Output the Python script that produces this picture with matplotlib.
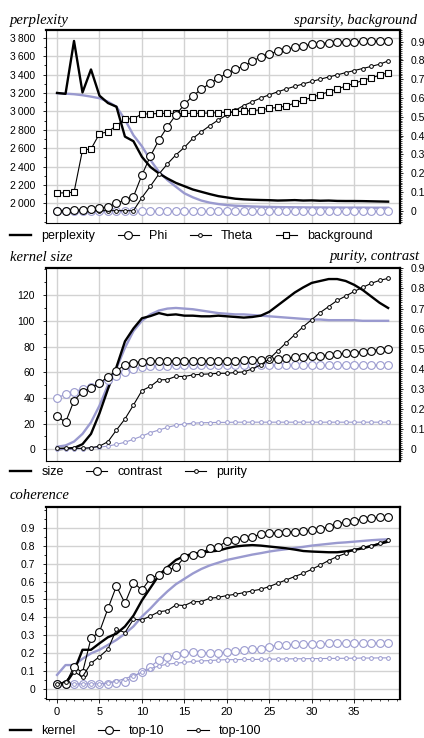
import matplotlib.pyplot as plt
from matplotlib.lines import Line2D
from matplotlib.ticker import FixedLocator, FuncFormatter, MultipleLocator

plt.rcParams['font.family'] = ['Liberation Sans', 'DejaVu Sans']


# Data: one value per iteration 0..39 (black = model, blue = baseline)

iterations = list(range(40))

perplexity = [3200, 3190, 3765, 3205, 3455, 3170, 3090, 3050, 2725, 2675,
              2505, 2395, 2325, 2270, 2222, 2186, 2150, 2125, 2100, 2078,
              2064, 2050, 2043, 2039, 2036, 2034, 2030, 2032, 2035, 2030,
              2032, 2028, 2030, 2026, 2025, 2025, 2024, 2022, 2020, 2018]
perplexity_base = [3196, 3192, 3186, 3175, 3160, 3142, 3105, 3050, 2910, 2740,
                   2620, 2471, 2343, 2253, 2180, 2109, 2065, 2030, 2007, 1992,
                   1981, 1974, 1970, 1966, 1963, 1961, 1959, 1958, 1957, 1956,
                   1955, 1955, 1954, 1954, 1953, 1953, 1953, 1952, 1952, 1952]
phi = [0.0, 0.0, 0.002, 0.004, 0.008, 0.014, 0.021, 0.039, 0.057, 0.075,
       0.19, 0.291, 0.376, 0.447, 0.51, 0.566, 0.612, 0.646, 0.678, 0.705,
       0.731, 0.753, 0.77, 0.795, 0.82, 0.835, 0.848, 0.86, 0.87, 0.878,
       0.885, 0.89, 0.894, 0.897, 0.899, 0.9, 0.901, 0.902, 0.903, 0.903]
phi_base = [0.0, 0.0, 0.0, 0.0, 0.0, 0.0, 0.0, 0.0, 0.0, 0.0,
            0.0, 0.0, 0.0, 0.0, 0.0, 0.0, 0.0, 0.0, 0.0, 0.0,
            0.0, 0.0, 0.0, 0.0, 0.0, 0.0, 0.0, 0.0, 0.0, 0.0,
            0.0, 0.0, 0.0, 0.0, 0.0, 0.0, 0.0, 0.0, 0.0, 0.0]
theta = [0.0, 0.0, 0.0, 0.0, 0.0, 0.0, 0.0, 0.0, 0.0, 0.0,
         0.07, 0.131, 0.195, 0.249, 0.297, 0.337, 0.385, 0.42, 0.453, 0.483,
         0.51, 0.535, 0.56, 0.58, 0.6, 0.617, 0.633, 0.648, 0.662, 0.675,
         0.688, 0.7, 0.712, 0.723, 0.735, 0.746, 0.757, 0.768, 0.78, 0.797]
background = [0.093, 0.096, 0.098, 0.323, 0.328, 0.41, 0.42, 0.453, 0.488, 0.49,
              0.515, 0.515, 0.518, 0.518, 0.518, 0.518, 0.518, 0.519, 0.52, 0.522,
              0.524, 0.527, 0.53, 0.533, 0.537, 0.545, 0.55, 0.557, 0.573, 0.588,
              0.603, 0.618, 0.633, 0.648, 0.663, 0.678, 0.693, 0.707, 0.721, 0.735]

size = [0, 0.5, 1, 4, 12, 28, 47, 64, 84, 94,
        102, 103.7, 106, 104.5, 105, 104, 104, 103.5, 103.5, 104,
        103.5, 103, 102.5, 103, 104, 107, 112, 117, 122, 126,
        129.5, 131, 132.5, 132.5, 131, 128, 124, 119, 114, 110]
size_base = [2, 3, 6, 12, 21, 34, 50, 63, 79, 92,
             100, 105, 108, 109.5, 110, 109.5, 109, 108, 107, 106,
             105.5, 105, 105, 104.5, 104, 103.5, 103, 102.5, 102, 101.5,
             101, 101, 100.5, 100.5, 100.5, 100.5, 100, 100, 100, 100]
contrast = [0.166, 0.134, 0.242, 0.287, 0.307, 0.328, 0.362, 0.39, 0.42, 0.431,
            0.436, 0.438, 0.44, 0.44, 0.44, 0.44, 0.44, 0.44, 0.44, 0.44,
            0.441, 0.441, 0.442, 0.443, 0.444, 0.449, 0.451, 0.454, 0.457, 0.46,
            0.463, 0.466, 0.469, 0.473, 0.477, 0.481, 0.486, 0.491, 0.496, 0.501]
contrast_base = [0.254, 0.275, 0.287, 0.3, 0.312, 0.328, 0.345, 0.365, 0.385, 0.4,
                 0.41, 0.413, 0.415, 0.416, 0.417, 0.418, 0.418, 0.418, 0.418, 0.418,
                 0.418, 0.418, 0.418, 0.418, 0.418, 0.418, 0.418, 0.418, 0.418, 0.418,
                 0.418, 0.418, 0.418, 0.418, 0.418, 0.418, 0.418, 0.418, 0.418, 0.418]
purity = [0.005, 0.005, 0.005, 0.005, 0.008, 0.016, 0.038, 0.096, 0.151, 0.22,
          0.292, 0.313, 0.345, 0.347, 0.363, 0.362, 0.37, 0.373, 0.375, 0.378,
          0.378, 0.382, 0.385, 0.4, 0.42, 0.45, 0.49, 0.53, 0.57, 0.61,
          0.645, 0.68, 0.71, 0.74, 0.762, 0.785, 0.805, 0.825, 0.84, 0.85]
purity_base = [0.0, 0.0, 0.002, 0.004, 0.007, 0.011, 0.016, 0.025, 0.035, 0.05,
               0.066, 0.083, 0.096, 0.109, 0.12, 0.126, 0.13, 0.132, 0.133, 0.134,
               0.134, 0.135, 0.135, 0.135, 0.135, 0.135, 0.135, 0.135, 0.135, 0.135,
               0.135, 0.135, 0.135, 0.135, 0.135, 0.135, 0.135, 0.135, 0.135, 0.135]

kernel = [0.03, 0.03, 0.1, 0.22, 0.22, 0.256, 0.29, 0.31, 0.35, 0.41,
          0.495, 0.565, 0.635, 0.68, 0.72, 0.742, 0.754, 0.761, 0.767, 0.772,
          0.785, 0.795, 0.8, 0.803, 0.8, 0.795, 0.79, 0.785, 0.778, 0.77,
          0.767, 0.765, 0.763, 0.763, 0.768, 0.776, 0.785, 0.797, 0.81, 0.822]
kernel_base = [0.08, 0.135, 0.135, 0.17, 0.2, 0.22, 0.247, 0.275, 0.31, 0.35,
               0.405, 0.45, 0.5, 0.545, 0.585, 0.615, 0.645, 0.67, 0.69, 0.705,
               0.72, 0.73, 0.74, 0.75, 0.758, 0.767, 0.774, 0.78, 0.787, 0.793,
               0.8, 0.805, 0.81, 0.815, 0.818, 0.822, 0.826, 0.83, 0.833, 0.835]
top10 = [0.03, 0.03, 0.126, 0.093, 0.284, 0.32, 0.45, 0.575, 0.479, 0.594,
         0.553, 0.618, 0.637, 0.664, 0.679, 0.735, 0.748, 0.761, 0.785, 0.794,
         0.826, 0.831, 0.841, 0.85, 0.863, 0.869, 0.872, 0.874, 0.878, 0.883,
         0.887, 0.891, 0.906, 0.919, 0.934, 0.939, 0.947, 0.952, 0.958, 0.961]
top10_base = [0.03, 0.03, 0.03, 0.03, 0.03, 0.03, 0.03, 0.033, 0.043, 0.07,
              0.098, 0.126, 0.163, 0.18, 0.19, 0.2, 0.21, 0.204, 0.204, 0.2,
              0.21, 0.216, 0.22, 0.223, 0.227, 0.238, 0.245, 0.247, 0.25, 0.252,
              0.252, 0.254, 0.256, 0.256, 0.256, 0.256, 0.256, 0.26, 0.256, 0.256]
top100 = [0.03, 0.043, 0.098, 0.07, 0.145, 0.182, 0.223, 0.334, 0.316, 0.39,
          0.386, 0.408, 0.432, 0.438, 0.47, 0.466, 0.488, 0.488, 0.507, 0.512,
          0.522, 0.529, 0.538, 0.548, 0.557, 0.572, 0.591, 0.609, 0.628, 0.646,
          0.668, 0.692, 0.717, 0.739, 0.757, 0.776, 0.791, 0.8, 0.813, 0.832]
top100_base = [0.03, 0.03, 0.03, 0.03, 0.03, 0.03, 0.035, 0.045, 0.06, 0.075,
               0.095, 0.115, 0.13, 0.14, 0.145, 0.15, 0.155, 0.158, 0.16, 0.163,
               0.165, 0.165, 0.166, 0.166, 0.167, 0.168, 0.168, 0.169, 0.17, 0.17,
               0.171, 0.171, 0.172, 0.172, 0.173, 0.173, 0.174, 0.174, 0.175, 0.175]

iteration_ticks = [0, 5, 10, 15, 20, 25, 30, 35]
perplexity_ticks = [2000, 2200, 2400, 2600, 2800, 3000, 3200, 3400, 3600, 3800]
size_ticks = [0, 20, 40, 60, 80, 100, 120]
share_ticks = [0, 0.1, 0.2, 0.3, 0.4, 0.5, 0.6, 0.7, 0.8, 0.9]


BLACK = "black"
BLUE = "#9a9acf"
GRID = "#d2d2d2"
W, H = 424, 738

THICK = dict(lw=1.7)
BIG = dict(lw=0.8, marker="o", ms=5.6, mfc="white", mew=0.8)
SMALL = dict(lw=0.8, marker="o", ms=2.7, mfc="white", mew=0.7)
SQUARE = dict(lw=0.8, marker="s", ms=4.3, mfc="white", mew=0.8)


# Formatting helpers

def thousands(value, pos):
    return f"{value:,.0f}".replace(",", "\u2009")

def tenths(value, pos):
    return "0" if abs(value) < 1e-9 else f"{value:.1f}"

def rect(top, bottom):
    return [46 / W, 1 - bottom / H, 354 / W, (bottom - top) / H]


# Axes

def new_axes(fig, top, bottom, ylim, ticks, minor, fmt):
    ax = fig.add_axes(rect(top, bottom))
    ax.set_xlim(-1.3, 40.4)
    ax.set_ylim(*ylim)
    ax.xaxis.set_major_locator(FixedLocator(iteration_ticks))
    ax.yaxis.set_major_locator(FixedLocator(ticks))
    ax.yaxis.set_minor_locator(MultipleLocator(minor))
    ax.yaxis.set_major_formatter(FuncFormatter(fmt))
    ax.grid(True, color=GRID, lw=1.0)
    ax.set_axisbelow(True)
    ax.tick_params(axis="y", which="major", length=2.5, width=0.6,
                   pad=5.5, labelsize=7.5)
    ax.tick_params(axis="y", which="minor", length=1.5, width=0.6)
    ax.tick_params(axis="x", which="both", length=0, labelbottom=False)
    for side, lw in (("left", 0.8), ("bottom", 0.8), ("top", 1.6), ("right", 1.6)):
        ax.spines[side].set_linewidth(lw)
    return ax

def right_axes(ax, ylim):
    rx = ax.twinx()
    rx.set_ylim(*ylim)
    rx.yaxis.set_major_locator(FixedLocator(share_ticks))
    rx.yaxis.set_minor_locator(MultipleLocator(0.01))
    rx.yaxis.set_major_formatter(FuncFormatter(tenths))
    rx.tick_params(axis="y", which="major", length=2.0, width=0.6,
                   pad=5.5, labelsize=7.5)
    rx.tick_params(axis="y", which="minor", length=1.3, width=0.5)
    for spine in rx.spines.values():
        spine.set_visible(False)
    return rx

def plot(ax, values, color, style, zorder=2):
    if "marker" in style:
        ax.plot(iterations, values, color=color, mec=color, zorder=zorder, **style)
    else:
        ax.plot(iterations, values, color=color, zorder=zorder, **style)


# Peripherals

def add_title(fig, x, y, text):
    fig.text(x / W, 1 - y / H, text, family="Liberation Serif",
             style="italic", fontsize=10.5, va="baseline")

def add_legend(fig, y, entries):
    handles = [Line2D([], [], color=BLACK, mec=BLACK, **style)
               for _, style in entries]
    labels = [label for label, _ in entries]
    fig.legend(handles, labels, loc="center left",
               bbox_to_anchor=(10 / W, 1 - y / H), ncol=len(entries),
               frameon=False, fontsize=9, handlelength=1.7,
               handletextpad=0.8, columnspacing=1.8,
               borderpad=0, borderaxespad=0)


fig = plt.figure(figsize=(W / 100, H / 100), dpi=100)

# Panel 1: perplexity / sparsity, background
ax1 = new_axes(fig, 30, 223, (1786, 3884), perplexity_ticks, 100, thousands)
rx1 = right_axes(ax1, (-0.0655, 0.962))
plot(ax1, perplexity_base, BLUE, THICK, 2)
plot(ax1, perplexity, BLACK, THICK, 3)
plot(rx1, phi_base, BLUE, BIG, 2)
plot(rx1, theta, BLACK, SMALL, 3)
plot(rx1, background, BLACK, SQUARE, 3)
plot(rx1, phi, BLACK, BIG, 4)
add_title(fig, 10, 24, "perplexity")
add_title(fig, 294, 24, "sparsity, background")
add_legend(fig, 236, [("perplexity", THICK), ("Phi", BIG),
                      ("Theta", SMALL), ("background", SQUARE)])

# Panel 2: kernel size / purity, contrast
ax2 = new_axes(fig, 268, 461, (-9.1, 141.1), size_ticks, 10, lambda v, p: f"{v:.0f}")
rx2 = right_axes(ax2, (-0.058, 0.9015))
plot(ax2, size_base, BLUE, THICK, 2)
plot(ax2, size, BLACK, THICK, 3)
plot(rx2, contrast_base, BLUE, BIG, 2)
plot(rx2, purity_base, BLUE, SMALL, 2)
plot(rx2, contrast, BLACK, BIG, 3)
plot(rx2, purity, BLACK, SMALL, 4)
add_title(fig, 10, 261, "kernel size")
add_title(fig, 330, 260, "purity, contrast")
add_legend(fig, 472, [("size", THICK), ("contrast", BIG), ("purity", SMALL)])

# Panel 3: coherence
ax3 = new_axes(fig, 507, 699, (-0.054, 1.015), share_ticks, 0.05, tenths)
plot(ax3, kernel_base, BLUE, THICK, 2)
plot(ax3, top10_base, BLUE, BIG, 2)
plot(ax3, top100_base, BLUE, SMALL, 2)
plot(ax3, kernel, BLACK, THICK, 3)
plot(ax3, top10, BLACK, BIG, 3)
plot(ax3, top100, BLACK, SMALL, 4)
ax3.xaxis.set_minor_locator(MultipleLocator(1))
ax3.tick_params(axis="x", which="major", length=3, width=0.6, pad=3,
                labelsize=8, labelbottom=True)
ax3.tick_params(axis="x", which="minor", length=1.5, width=0.5)
add_title(fig, 10, 499, "coherence")
add_legend(fig, 731, [("kernel", THICK), ("top-10", BIG), ("top-100", SMALL)])

fig.savefig("out.png", dpi=100)
